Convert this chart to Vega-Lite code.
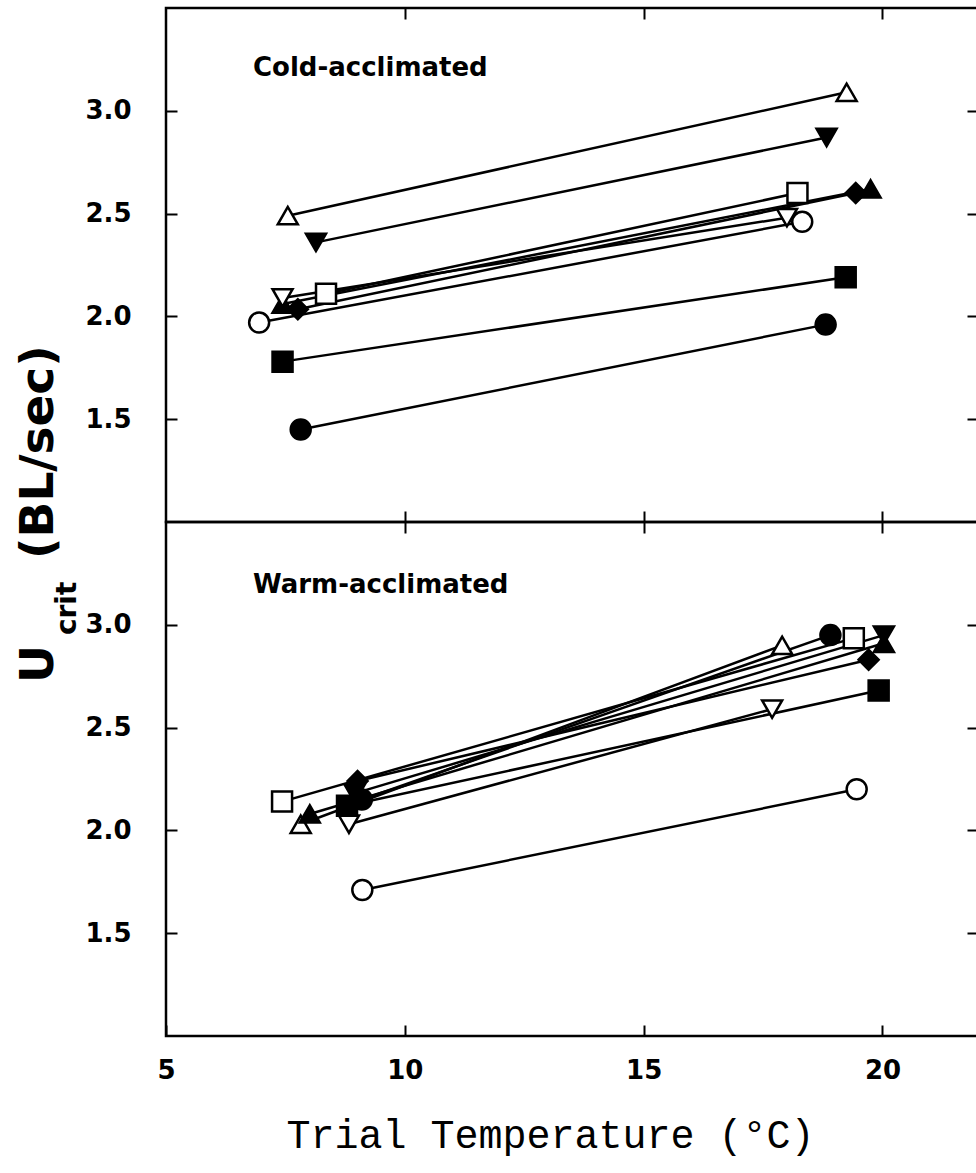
{
  "$schema": "https://vega.github.io/schema/vega-lite/v6.json",
  "background": "white",
  "padding": {"left": 13, "top": 5, "right": 0, "bottom": 5},
  "bounds": "flush",
  "spacing": 0,
  "datasets": {
    "fish": [
      {"panel": "Cold", "fish": "Fish 1", "temp": 7.55, "ucrit": 2.49},
      {"panel": "Cold", "fish": "Fish 1", "temp": 19.25, "ucrit": 3.09},
      {"panel": "Cold", "fish": "Fish 2", "temp": 8.14, "ucrit": 2.36},
      {"panel": "Cold", "fish": "Fish 2", "temp": 18.83, "ucrit": 2.87},
      {"panel": "Cold", "fish": "Fish 3", "temp": 8.35, "ucrit": 2.11},
      {"panel": "Cold", "fish": "Fish 3", "temp": 18.22, "ucrit": 2.60},
      {"panel": "Cold", "fish": "Fish 4", "temp": 7.76, "ucrit": 2.035},
      {"panel": "Cold", "fish": "Fish 4", "temp": 19.44, "ucrit": 2.60},
      {"panel": "Cold", "fish": "Fish 5", "temp": 7.44, "ucrit": 2.06},
      {"panel": "Cold", "fish": "Fish 5", "temp": 19.75, "ucrit": 2.62},
      {"panel": "Cold", "fish": "Fish 6", "temp": 7.44, "ucrit": 2.09},
      {"panel": "Cold", "fish": "Fish 6", "temp": 18.0, "ucrit": 2.48},
      {"panel": "Cold", "fish": "Fish 7", "temp": 6.95, "ucrit": 1.97},
      {"panel": "Cold", "fish": "Fish 7", "temp": 18.32, "ucrit": 2.46},
      {"panel": "Cold", "fish": "Fish 8", "temp": 7.44, "ucrit": 1.78},
      {"panel": "Cold", "fish": "Fish 8", "temp": 19.23, "ucrit": 2.19},
      {"panel": "Cold", "fish": "Fish 9", "temp": 7.82, "ucrit": 1.45},
      {"panel": "Cold", "fish": "Fish 9", "temp": 18.81, "ucrit": 1.96},
      {"panel": "Warm", "fish": "Fish 1", "temp": 7.82, "ucrit": 2.03},
      {"panel": "Warm", "fish": "Fish 1", "temp": 17.90, "ucrit": 2.90},
      {"panel": "Warm", "fish": "Fish 2", "temp": 8.95, "ucrit": 2.18},
      {"panel": "Warm", "fish": "Fish 2", "temp": 20.03, "ucrit": 2.95},
      {"panel": "Warm", "fish": "Fish 3", "temp": 7.43, "ucrit": 2.14},
      {"panel": "Warm", "fish": "Fish 3", "temp": 19.40, "ucrit": 2.935},
      {"panel": "Warm", "fish": "Fish 4", "temp": 9.01, "ucrit": 2.24},
      {"panel": "Warm", "fish": "Fish 4", "temp": 19.71, "ucrit": 2.83},
      {"panel": "Warm", "fish": "Fish 5", "temp": 8.01, "ucrit": 2.08},
      {"panel": "Warm", "fish": "Fish 5", "temp": 20.03, "ucrit": 2.91},
      {"panel": "Warm", "fish": "Fish 6", "temp": 8.83, "ucrit": 2.03},
      {"panel": "Warm", "fish": "Fish 6", "temp": 17.69, "ucrit": 2.59},
      {"panel": "Warm", "fish": "Fish 7", "temp": 9.11, "ucrit": 1.71},
      {"panel": "Warm", "fish": "Fish 7", "temp": 19.46, "ucrit": 2.20},
      {"panel": "Warm", "fish": "Fish 8", "temp": 8.79, "ucrit": 2.12},
      {"panel": "Warm", "fish": "Fish 8", "temp": 19.92, "ucrit": 2.68},
      {"panel": "Warm", "fish": "Fish 9", "temp": 9.1, "ucrit": 2.15},
      {"panel": "Warm", "fish": "Fish 9", "temp": 18.91, "ucrit": 2.95}
    ]
  },
  "config": {
    "view": {"stroke": "black", "strokeWidth": 2.5},
    "axis": {
      "domain": false,
      "grid": false,
      "tickColor": "black",
      "tickWidth": 2,
      "tickSize": -11,
      "labelFlush": false,
      "labelFont": "DejaVu Sans",
      "labelFontWeight": "bold",
      "labelFontSize": 26,
      "labelColor": "black"
    }
  },
  "vconcat": [
    {
      "width": 812,
      "height": 514,
      "layer": [
        {
          "data": {"name": "fish"},
          "transform": [{"filter": "datum.panel === 'Cold'"}],
          "mark": {"type": "line", "color": "black", "strokeWidth": 2.5},
          "encoding": {
            "x": {"field": "temp", "type": "quantitative", "scale": {"domain": [5, 22], "nice": false, "zero": false}, "axis": {"orient": "bottom", "values": [10, 15, 20], "labels": false, "title": null}},
            "y": {"field": "ucrit", "type": "quantitative", "scale": {"domain": [1, 3.5], "nice": false, "zero": false}, "axis": {"orient": "left", "values": [1.5, 2, 2.5, 3], "format": ".1f", "labelPadding": 46, "title": null}},
            "detail": {"field": "fish", "type": "nominal"}
          }
        },
        {
          "data": {"name": "fish"},
          "transform": [{"filter": "datum.panel === 'Cold'"}],
          "mark": {"type": "point", "filled": true, "opacity": 1, "stroke": "black", "strokeWidth": 2.5, "size": 400},
          "encoding": {
            "x": {"field": "temp", "type": "quantitative", "scale": {"domain": [5, 22], "nice": false, "zero": false}, "axis": {"orient": "top", "values": [10, 15, 20], "labels": false, "title": null}},
            "y": {"field": "ucrit", "type": "quantitative", "scale": {"domain": [1, 3.5], "nice": false, "zero": false}, "axis": {"orient": "right", "values": [1.5, 2, 2.5, 3], "labels": false, "title": null}},
            "shape": {"field": "fish", "type": "nominal", "legend": null, "scale": {"domain": ["Fish 1", "Fish 2", "Fish 3", "Fish 4", "Fish 5", "Fish 6", "Fish 7", "Fish 8", "Fish 9"], "range": ["triangle-up", "triangle-down", "square", "diamond", "triangle-up", "triangle-down", "circle", "square", "circle"]}},
            "fill": {"field": "fish", "type": "nominal", "legend": null, "scale": {"domain": ["Fish 1", "Fish 2", "Fish 3", "Fish 4", "Fish 5", "Fish 6", "Fish 7", "Fish 8", "Fish 9"], "range": ["white", "black", "white", "black", "black", "white", "white", "black", "black"]}}
          }
        },
        {
          "data": {"values": [{}]},
          "mark": {"type": "text", "text": "Cold-acclimated", "font": "DejaVu Sans", "fontWeight": "bold", "fontSize": 26, "align": "left", "baseline": "alphabetic", "color": "black"},
          "encoding": {
            "x": {"datum": 6.82, "type": "quantitative", "scale": {"domain": [5, 22]}, "axis": null},
            "y": {"datum": 3.17, "type": "quantitative", "scale": {"domain": [1, 3.5]}, "axis": null}
          }
        }
      ],
      "resolve": {"axis": {"x": "independent", "y": "independent"}}
    },
    {
      "width": 812,
      "height": 514,
      "layer": [
        {
          "data": {"name": "fish"},
          "transform": [{"filter": "datum.panel === 'Warm'"}],
          "mark": {"type": "line", "color": "black", "strokeWidth": 2.5},
          "encoding": {
            "x": {"field": "temp", "type": "quantitative", "scale": {"domain": [5, 22], "nice": false, "zero": false}, "axis": {"orient": "bottom", "values": [5, 10, 15, 20], "labelPadding": 32, "title": "Trial Temperature (°C)", "titleFont": "Liberation Mono", "titleFontSize": 40, "titleFontWeight": "normal", "titleColor": "black", "titlePadding": 32, "titleX": 384}},
            "y": {"field": "ucrit", "type": "quantitative", "scale": {"domain": [1, 3.5], "nice": false, "zero": false}, "axis": {"orient": "left", "values": [1.5, 2, 2.5, 3], "format": ".1f", "labelPadding": 46, "title": null}},
            "detail": {"field": "fish", "type": "nominal"}
          }
        },
        {
          "data": {"name": "fish"},
          "transform": [{"filter": "datum.panel === 'Warm'"}],
          "mark": {"type": "point", "filled": true, "opacity": 1, "stroke": "black", "strokeWidth": 2.5, "size": 400},
          "encoding": {
            "x": {"field": "temp", "type": "quantitative", "scale": {"domain": [5, 22], "nice": false, "zero": false}, "axis": {"orient": "top", "values": [10, 15, 20], "labels": false, "title": null}},
            "y": {"field": "ucrit", "type": "quantitative", "scale": {"domain": [1, 3.5], "nice": false, "zero": false}, "axis": {"orient": "right", "values": [1.5, 2, 2.5, 3], "labels": false, "title": null}},
            "shape": {"field": "fish", "type": "nominal", "legend": null, "scale": {"domain": ["Fish 1", "Fish 2", "Fish 3", "Fish 4", "Fish 5", "Fish 6", "Fish 7", "Fish 8", "Fish 9"], "range": ["triangle-up", "triangle-down", "square", "diamond", "triangle-up", "triangle-down", "circle", "square", "circle"]}},
            "fill": {"field": "fish", "type": "nominal", "legend": null, "scale": {"domain": ["Fish 1", "Fish 2", "Fish 3", "Fish 4", "Fish 5", "Fish 6", "Fish 7", "Fish 8", "Fish 9"], "range": ["white", "black", "white", "black", "black", "white", "white", "black", "black"]}}
          }
        },
        {
          "data": {"values": [{}]},
          "mark": {"type": "text", "text": "Warm-acclimated", "font": "DejaVu Sans", "fontWeight": "bold", "fontSize": 26, "align": "left", "baseline": "alphabetic", "color": "black"},
          "encoding": {
            "x": {"datum": 6.82, "type": "quantitative", "scale": {"domain": [5, 22]}, "axis": null},
            "y": {"datum": 3.155, "type": "quantitative", "scale": {"domain": [1, 3.5]}, "axis": null}
          }
        },
        {
          "data": {"values": [{}]},
          "mark": {"type": "text", "text": "(BL/sec)", "font": "DejaVu Sans", "fontWeight": "bold", "fontSize": 47, "angle": 270, "align": "center", "baseline": "middle", "color": "black"},
          "encoding": {
            "x": {"datum": 2.34, "type": "quantitative", "scale": {"domain": [5, 22]}, "axis": null},
            "y": {"datum": 3.84, "type": "quantitative", "scale": {"domain": [1, 3.5]}, "axis": null}
          }
        },
        {
          "data": {"values": [{}]},
          "mark": {"type": "text", "text": "U", "font": "DejaVu Sans", "fontWeight": "bold", "fontSize": 47, "angle": 270, "align": "center", "baseline": "middle", "color": "black"},
          "encoding": {
            "x": {"datum": 2.34, "type": "quantitative", "scale": {"domain": [5, 22]}, "axis": null},
            "y": {"datum": 2.81, "type": "quantitative", "scale": {"domain": [1, 3.5]}, "axis": null}
          }
        },
        {
          "data": {"values": [{}]},
          "mark": {"type": "text", "text": "crit", "font": "DejaVu Sans", "fontWeight": "bold", "fontSize": 28, "angle": 270, "align": "center", "baseline": "middle", "color": "black"},
          "encoding": {
            "x": {"datum": 2.95, "type": "quantitative", "scale": {"domain": [5, 22]}, "axis": null},
            "y": {"datum": 3.08, "type": "quantitative", "scale": {"domain": [1, 3.5]}, "axis": null}
          }
        }
      ],
      "resolve": {"axis": {"x": "independent", "y": "independent"}}
    }
  ]
}
